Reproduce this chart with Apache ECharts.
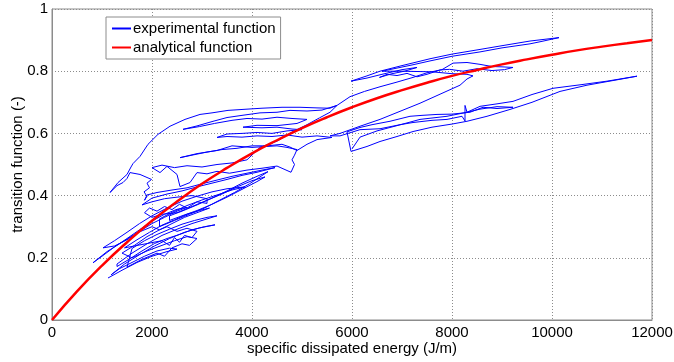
<!DOCTYPE html>
<html>
<head>
<meta charset="utf-8">
<script src="https://cdn.jsdelivr.net/npm/echarts@6/dist/echarts.min.js"></script>
<style>
  html, body { margin: 0; padding: 0; background: #fff; }
  #chart { width: 674px; height: 362px; }
</style>
</head>
<body>
<div id="chart"></div>
<script>
// x ticks / y ticks
const xTicks = [0, 2000, 4000, 6000, 8000, 10000, 12000];
const yTicks = [0, 0.2, 0.4, 0.6, 0.8, 1];

// analytical function
const analyticalEnergy = [0, 500, 1000, 1500, 2000, 2500, 3000, 3500, 4000, 4500, 5000, 5500, 6000,
  6500, 7000, 7500, 8000, 8500, 9000, 9500, 10000, 10500, 11000, 11500, 12000];
const analyticalValues = [0, 0.092, 0.175, 0.250, 0.319, 0.381, 0.438, 0.489, 0.536, 0.578, 0.617, 0.652, 0.684,
  0.713, 0.739, 0.763, 0.785, 0.804, 0.822, 0.838, 0.853, 0.867, 0.879, 0.890, 0.900];

// experimental function, traced by hand along the blue path [energy, transition]
const experimentalPoints = [
  // lower cluster, loops below the red curve
  [1120,0.135],[1400,0.160],[1700,0.185],[2000,0.205],[2300,0.220],[2500,0.228],[2350,0.231],[2100,0.222],
  [1850,0.205],[1600,0.185],[1350,0.165],[1180,0.145],
  [1180,0.150],[1450,0.180],[1750,0.210],[2050,0.238],[2350,0.262],[2650,0.282],[2950,0.296],[3260,0.306],
  [3050,0.300],[2800,0.290],[2550,0.275],[2300,0.262],[2050,0.246],[1800,0.222],[1550,0.196],[1300,0.172],
  [1300,0.180],[1600,0.215],[1900,0.245],[2200,0.272],[2500,0.292],[2800,0.310],[3100,0.325],[3300,0.335],
  [3100,0.330],[2850,0.320],[2600,0.308],[2350,0.292],[2100,0.275],[1850,0.255],[1600,0.230],
  [1500,0.170],[1800,0.195],[2100,0.215],[2250,0.205],[2400,0.232],[2600,0.245],[2750,0.240],[2900,0.262],
  [2700,0.268],[2450,0.255],[2200,0.240],[1900,0.222],[1600,0.200],
  [1400,0.215],[1650,0.240],[1900,0.268],[2150,0.290],[2400,0.310],[2650,0.330],[2900,0.345],[3150,0.360],
  [2950,0.352],[2700,0.340],[2450,0.322],[2200,0.305],[1950,0.282],[1700,0.258],[1450,0.232],
  [2200,0.255],[2350,0.240],[2450,0.265],[2550,0.250],[2650,0.272],[2800,0.265],[2900,0.285],[2700,0.295],
  [2500,0.285],[2300,0.300],[2150,0.290],
  // loops above the red curve
  [2000,0.300],[1700,0.280],[1400,0.250],[1100,0.220],[820,0.184],[1000,0.205],[1250,0.235],[1500,0.262],
  [1750,0.290],[2000,0.318],[2250,0.340],[2500,0.356],[2700,0.362],[2500,0.350],[2250,0.330],[2000,0.310],
  [1750,0.285],[1500,0.258],[1250,0.238],[1020,0.232],
  [1250,0.255],[1500,0.282],[1750,0.310],[2000,0.335],[2300,0.360],[2600,0.382],[2900,0.398],[3200,0.412],
  [3500,0.422],[3860,0.428],[3600,0.418],[3300,0.402],[3000,0.386],[2700,0.368],[2400,0.346],[2150,0.325],
  [2150,0.300],[2450,0.320],[2750,0.340],[3050,0.360],[3350,0.385],[3650,0.410],[3950,0.438],[4320,0.477],
  [4100,0.462],[3800,0.440],[3500,0.415],[3200,0.392],[2900,0.370],[2600,0.350],[2350,0.335],
  [2350,0.320],[2600,0.335],[2900,0.352],[3200,0.372],[3500,0.395],[3800,0.420],[4100,0.445],[4260,0.460],
  [4000,0.448],[3700,0.428],[3400,0.405],[3100,0.385],[2800,0.365],[2500,0.345],
  [2200,0.340],[2000,0.330],[1850,0.345],[1950,0.360],[2100,0.350],[2250,0.365],[2400,0.355],[2550,0.372],
  [2700,0.360],[2900,0.380],[3100,0.375],
  [3100,0.390],[2800,0.400],[2500,0.395],[2250,0.390],[2000,0.380],[1800,0.370],[2000,0.392],[2300,0.405],
  [2600,0.415],[2900,0.428],[3200,0.440],[3500,0.452],[3800,0.465],[4100,0.475],[4460,0.490],[4200,0.482],
  [3900,0.472],[3600,0.462],[3300,0.450],[3000,0.438],[2700,0.425],[2400,0.418],[2100,0.410],[1900,0.402],
  // jagged climb into the fan
  [1850,0.385],[1900,0.398],[1840,0.412],[1950,0.425],[1900,0.440],[1990,0.452],
  [1760,0.468],[1560,0.474],[1500,0.455],[1420,0.442],[1300,0.432],[1160,0.410],
  // outer edge of the fan
  [1320,0.442],[1500,0.468],[1580,0.492],[1620,0.503],[1760,0.526],[1920,0.565],[2120,0.597],[2360,0.623],
  [2660,0.645],[2960,0.661],[3200,0.666],[3520,0.674],[3900,0.678],[4200,0.681],[4600,0.684],[4960,0.684],
  [5300,0.682],[5560,0.681],[5700,0.690],
  // inner fan bands
  [5400,0.675],[5100,0.672],[4760,0.674],[4500,0.668],[4160,0.666],[3800,0.658],[3500,0.651],[3200,0.638],
  [2900,0.624],[2620,0.613],[2950,0.622],[3250,0.632],[3600,0.642],[3900,0.648],[4200,0.646],[4500,0.652],
  [4800,0.648],[5100,0.645],
  [4900,0.632],[4500,0.625],[4100,0.626],[3820,0.620],[4200,0.618],[4500,0.620],[4800,0.614],[5000,0.612],
  [4700,0.608],[4400,0.600],[4100,0.603],[3800,0.600],[3500,0.598],[3300,0.587],[3500,0.590],[3800,0.588],
  [4100,0.592],[4400,0.590],[4700,0.595],[5000,0.588],[5300,0.592],[5600,0.587],[5300,0.580],[5100,0.565],
  [4900,0.545],[4760,0.556],[4600,0.565],[4300,0.560],[4000,0.560],[3700,0.552],[3400,0.548],[3100,0.540],
  [2800,0.530],[2560,0.522],[2900,0.535],[3300,0.545],[3600,0.560],[4000,0.555],[4500,0.560],[4700,0.555],
  [4900,0.548],[4850,0.530],[4800,0.515],[4850,0.500],[4780,0.475],
  // lower edge of the fan
  [4500,0.495],[4200,0.488],[3900,0.482],[3550,0.472],[3300,0.478],[3100,0.470],[2900,0.474],[2760,0.442],
  [2560,0.429],[2500,0.468],[2300,0.494],[2160,0.474],[2000,0.490],[2200,0.498],[2450,0.490],[2700,0.496],
  [3000,0.492],[3300,0.500],[3600,0.505],[3900,0.515],[4160,0.555],[4500,0.575],[4820,0.606],[5100,0.628],
  [5350,0.650],[5560,0.668],[5700,0.690],
  // upper right bands
  [5960,0.718],[6250,0.735],[6560,0.750],[6900,0.765],[7220,0.780],[7500,0.795],[7800,0.805],[8020,0.826],
  [8300,0.828],[8560,0.822],[8800,0.815],[9000,0.814],[9220,0.812],[9050,0.805],[8800,0.802],[8500,0.808],
  [8220,0.800],[7950,0.806],[7760,0.804],[7500,0.790],[7300,0.782],[7100,0.793],[6900,0.786],[6700,0.790],
  [6550,0.780],[6520,0.774],[6800,0.792],[7050,0.800],[7300,0.812],
  [7000,0.805],[6600,0.790],[6300,0.778],[5980,0.768],[6300,0.785],[6560,0.800],[7000,0.818],[7560,0.840],
  [8000,0.855],[8560,0.870],[9000,0.882],[9560,0.897],[10140,0.908],[9800,0.896],[9560,0.888],[9000,0.875],
  [8560,0.862],[8000,0.848],[7560,0.833],[7200,0.820],[6960,0.812],[6600,0.800],
  [7000,0.800],[7600,0.798],[8000,0.792],[8300,0.790],[8420,0.785],[8300,0.775],
  [8160,0.755],[7760,0.726],[7360,0.697],[6960,0.671],[6560,0.645],[6160,0.623],[5760,0.600],[5560,0.592],
  // lower right bands
  [5760,0.592],[6160,0.612],[6560,0.615],[6960,0.628],[7220,0.635],[7600,0.642],[7900,0.645],[8200,0.655],
  [8260,0.640],[8260,0.690],[8300,0.668],[8560,0.678],[8900,0.686],[9220,0.684],[8900,0.680],[8620,0.684],
  [8360,0.668],[8000,0.662],[7700,0.661],[7400,0.658],[7160,0.655],[6760,0.639],[6400,0.628],[6160,0.619],[5900,0.605],
  [5980,0.542],[6300,0.558],[6560,0.574],[6900,0.590],[7220,0.606],[7600,0.620],[8000,0.630],[8300,0.639],
  [8700,0.655],[9160,0.677],[9600,0.700],[10160,0.735],[10700,0.755],[11360,0.774],[11700,0.784],[11100,0.768],
  [10600,0.757],[10020,0.745],[9600,0.725],[9220,0.703],[8900,0.695],[8560,0.687],[8300,0.668],[7900,0.655],
  [7360,0.645],[6900,0.625],[6500,0.608],[6160,0.588],[6000,0.550]
];

const chart = echarts.init(document.getElementById('chart'));
const font = '"Liberation Sans", Arial, sans-serif';

chart.setOption({
  animation: false,
  textStyle: { fontFamily: font },
  grid: {
    left: 52, right: 22, top: 9, bottom: 42,
    containLabel: false,
    outerBoundsMode: 'none',
    show: true, borderColor: '#8c8c8c', borderWidth: 1, backgroundColor: '#fff'
  },
  legend: {
    orient: 'vertical',
    left: 106, top: 17,
    backgroundColor: '#fff',
    borderColor: '#8c8c8c', borderWidth: 1,
    padding: [4, 5, 4, 5],
    itemGap: 4,
    itemWidth: 19,
    itemHeight: 10,
    itemStyle: { opacity: 0, borderWidth: 0 },
    textStyle: { fontSize: 15, color: '#000', fontFamily: font, padding: [0, 0, 0, -3] },
    data: ['experimental function', 'analytical function']
  },
  xAxis: {
    type: 'value',
    min: xTicks[0], max: xTicks[xTicks.length - 1], interval: 2000,
    name: 'specific dissipated energy (J/m)',
    nameLocation: 'middle', nameGap: 21, nameMoveOverlap: false,
    nameTextStyle: { fontSize: 15, color: '#000', fontFamily: font },
    axisLine: { lineStyle: { color: '#8c8c8c' } },
    axisTick: { show: false },
    axisLabel: { fontSize: 15, color: '#000', margin: 5, fontFamily: font, formatter: v => String(v) },
    splitLine: { show: true, lineStyle: { type: [1, 2], color: '#8c8c8c' } }
  },
  yAxis: {
    type: 'value',
    min: yTicks[0], max: yTicks[yTicks.length - 1], interval: 0.2,
    name: 'transition function (-)',
    nameLocation: 'middle', nameGap: 27, nameMoveOverlap: false,
    nameTextStyle: { fontSize: 15, color: '#000', fontFamily: font },
    axisLine: { show: true, lineStyle: { color: '#8c8c8c' } },
    axisTick: { show: false },
    axisLabel: { fontSize: 15, color: '#000', margin: 4, fontFamily: font },
    splitLine: { show: true, lineStyle: { type: [1, 2], color: '#8c8c8c' } }
  },
  series: [
    {
      name: 'experimental function',
      type: 'line',
      data: experimentalPoints,
      symbol: 'none',
      sampling: null,
      lineStyle: { width: 1, color: '#0000ff' },
      itemStyle: { color: '#0000ff' },
      z: 2
    },
    {
      name: 'analytical function',
      type: 'line',
      data: analyticalEnergy.map((e, i) => [e, analyticalValues[i]]),
      symbol: 'none',
      smooth: true,
      lineStyle: { width: 2.5, color: '#ff0000' },
      itemStyle: { color: '#ff0000' },
      z: 3
    }
  ]
});
</script>
</body>
</html>
